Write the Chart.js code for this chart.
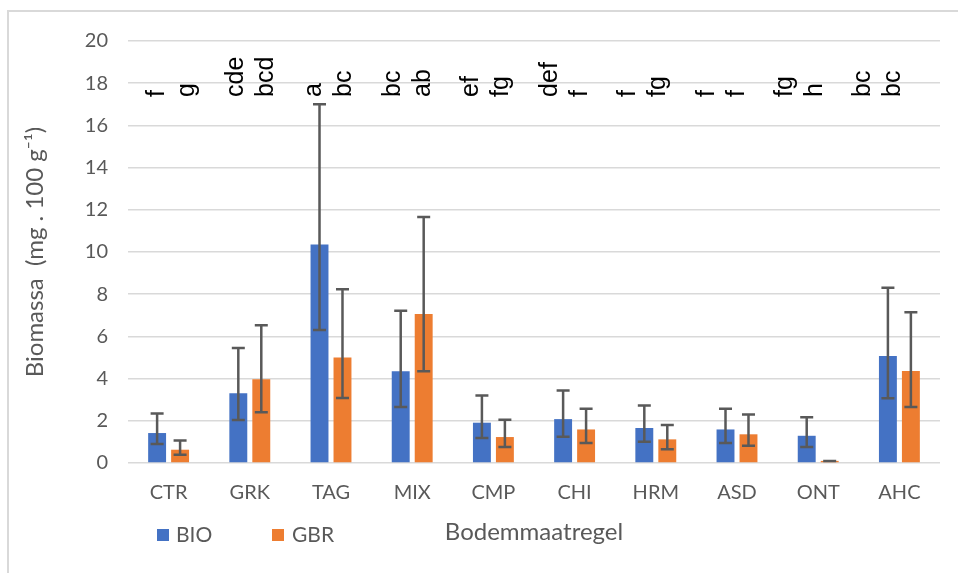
<!DOCTYPE html>
<html>
<head>
<meta charset="utf-8">
<script src="https://cdn.jsdelivr.net/npm/chart.js@4"></script>
<style>
  body { margin: 0; background: #fff; }
  #wrap { width: 958px; height: 573px; }
</style>
</head>
<body>
<div id="wrap"><canvas id="biomassa" width="958" height="573"></canvas></div>
<script>
// Biomassa per bodemmaatregel, gemiddelde met foutbalken (onder/boven)
var categories = ['CTR', 'GRK', 'TAG', 'MIX', 'CMP', 'CHI', 'HRM', 'ASD', 'ONT', 'AHC'];

var bioValues = [1.42, 3.30, 10.35, 4.35, 1.91, 2.08, 1.66, 1.59, 1.29, 5.07];
var bioLow    = [0.90, 2.04, 6.30, 2.65, 1.18, 1.25, 1.01, 0.95, 0.76, 3.07];
var bioHigh   = [2.35, 5.45, 17.00, 7.22, 3.20, 3.44, 2.72, 2.57, 2.17, 8.30];

var gbrValues = [0.63, 3.97, 5.00, 7.06, 1.23, 1.59, 1.12, 1.36, 0.10, 4.36];
var gbrLow    = [0.39, 2.40, 3.08, 4.35, 0.76, 0.95, 0.65, 0.82, 0.10, 2.65];
var gbrHigh   = [1.07, 6.53, 8.23, 11.66, 2.05, 2.57, 1.80, 2.30, 0.10, 7.15];

var bioLetters = ['f', 'cde', 'a', 'bc', 'ef', 'def', 'f', 'f', 'fg', 'bc'];
var gbrLetters = ['g', 'bcd', 'bc', 'ab', 'fg', 'f', 'fg', 'f', 'h', 'bc'];

var yTicks = [0, 2, 4, 6, 8, 10, 12, 14, 16, 18, 20];

var textGrey = '#595959';
var axisFont = 'Lato, "Open Sans", sans-serif';

// kader van de figuur (alleen boven en links zichtbaar)
var framePlugin = {
    id: 'frame',
    beforeDraw: function(chart) {
        var ctx = chart.ctx;
        ctx.save();
        ctx.fillStyle = '#fff';
        ctx.fillRect(0, 0, chart.width, chart.height);
        ctx.strokeStyle = '#d9d9d9';
        ctx.lineWidth = 2;
        ctx.beginPath();
        ctx.moveTo(8, chart.height);
        ctx.lineTo(8, 11);
        ctx.lineTo(chart.width, 11);
        ctx.stroke();
        ctx.restore();
    }
};

// asymmetrische foutbalken
var errorBarPlugin = {
    id: 'errorBars',
    afterDatasetsDraw: function(chart) {
        var ctx = chart.ctx;
        var y = chart.scales.y;
        var lows = [bioLow, gbrLow];
        var highs = [bioHigh, gbrHigh];
        ctx.save();
        ctx.strokeStyle = textGrey;
        ctx.lineWidth = 2.5;
        chart.data.datasets.forEach(function(ds, d) {
            chart.getDatasetMeta(d).data.forEach(function(bar, i) {
                var yl = y.getPixelForValue(lows[d][i]);
                var yh = y.getPixelForValue(highs[d][i]);
                var cap = 6.5;
                ctx.beginPath();
                ctx.moveTo(bar.x, yl); ctx.lineTo(bar.x, yh);
                ctx.moveTo(bar.x - cap, yl); ctx.lineTo(bar.x + cap, yl);
                ctx.moveTo(bar.x - cap, yh); ctx.lineTo(bar.x + cap, yh);
                ctx.stroke();
            });
        });
        ctx.restore();
    }
};

// significantieletters (losse tekstvakken, iets smaller verdeeld dan de as)
var letterPlugin = {
    id: 'letters',
    afterDraw: function(chart) {
        var ctx = chart.ctx;
        var x = chart.scales.x;
        var y = chart.scales.y;
        var step = (x.getPixelForValue(1) - x.getPixelForValue(0)) * 0.966;
        var yStart = y.getPixelForValue(17.35);
        ctx.save();
        ctx.fillStyle = '#000';
        ctx.font = '25px "Liberation Sans", Arial, sans-serif';
        ctx.textAlign = 'left';
        ctx.textBaseline = 'middle';
        categories.forEach(function(c, i) {
            var cx = x.getPixelForValue(0) + 4 + i * step;
            [[bioLetters[i], cx - 15], [gbrLetters[i], cx + 15]].forEach(function(l) {
                ctx.save();
                ctx.translate(l[1], yStart);
                ctx.rotate(-Math.PI / 2);
                ctx.fillText(l[0], 0, 0);
                ctx.restore();
            });
        });
        ctx.restore();
    }
};

// legenda links op dezelfde regel als de astitel
var legendPlugin = {
    id: 'legendRow',
    afterDraw: function(chart) {
        var ctx = chart.ctx;
        var items = [[157, 176], [272, 292]];
        ctx.save();
        ctx.font = '21px ' + axisFont;
        ctx.textBaseline = 'middle';
        ctx.textAlign = 'left';
        chart.data.datasets.forEach(function(ds, d) {
            ctx.fillStyle = ds.backgroundColor;
            ctx.fillRect(items[d][0], 529, 12, 12);
            ctx.fillStyle = textGrey;
            ctx.fillText(ds.label, items[d][1], 535);
        });
        ctx.restore();
    }
};

var ctx = document.getElementById('biomassa');
var chart_biomassa = new Chart(ctx, {
    type: 'bar',
    data: {
        labels: categories,
        datasets: [{
            label: 'BIO',
            data: bioValues,
            backgroundColor: '#4472C4'
        }, {
            label: 'GBR',
            data: gbrValues,
            backgroundColor: '#ED7D31'
        }]
    },
    options: {
        responsive: false,
        animation: false,
        categoryPercentage: 0.566,
        barPercentage: 0.78,
        layout: { padding: { top: 41, right: 18, left: 0, bottom: 0 } },
        plugins: {
            legend: { display: false },
            tooltip: { enabled: false }
        },
        scales: {
            x: {
                grid: { display: false, drawTicks: false },
                border: { display: false },
                ticks: {
                    color: textGrey,
                    font: { family: axisFont, size: 20 },
                    padding: 18
                },
                title: {
                    display: true,
                    text: 'Bodemmaatregel',
                    color: textGrey,
                    font: { family: axisFont, size: 24 },
                    padding: { top: 0, bottom: 26 }
                },
                afterFit: function(scale) { scale.height = 110; }
            },
            y: {
                min: 0,
                max: 20,
                afterBuildTicks: function(scale) {
                    scale.ticks = yTicks.map(function(v) { return { value: v }; });
                },
                grid: { color: '#d9d9d9', lineWidth: 1.5, drawTicks: false },
                border: { display: false },
                ticks: {
                    color: textGrey,
                    font: { family: axisFont, size: 20 },
                    padding: 20
                },
                title: {
                    display: true,
                    text: 'Biomassa  (mg . 100 g\u207B\u00B9)',
                    color: textGrey,
                    font: { family: axisFont, size: 24 },
                    padding: { top: 21, bottom: 0 }
                },
                afterFit: function(scale) { scale.width = 128; }
            }
        }
    },
    plugins: [framePlugin, errorBarPlugin, letterPlugin, legendPlugin]
});
</script>
</body>
</html>
